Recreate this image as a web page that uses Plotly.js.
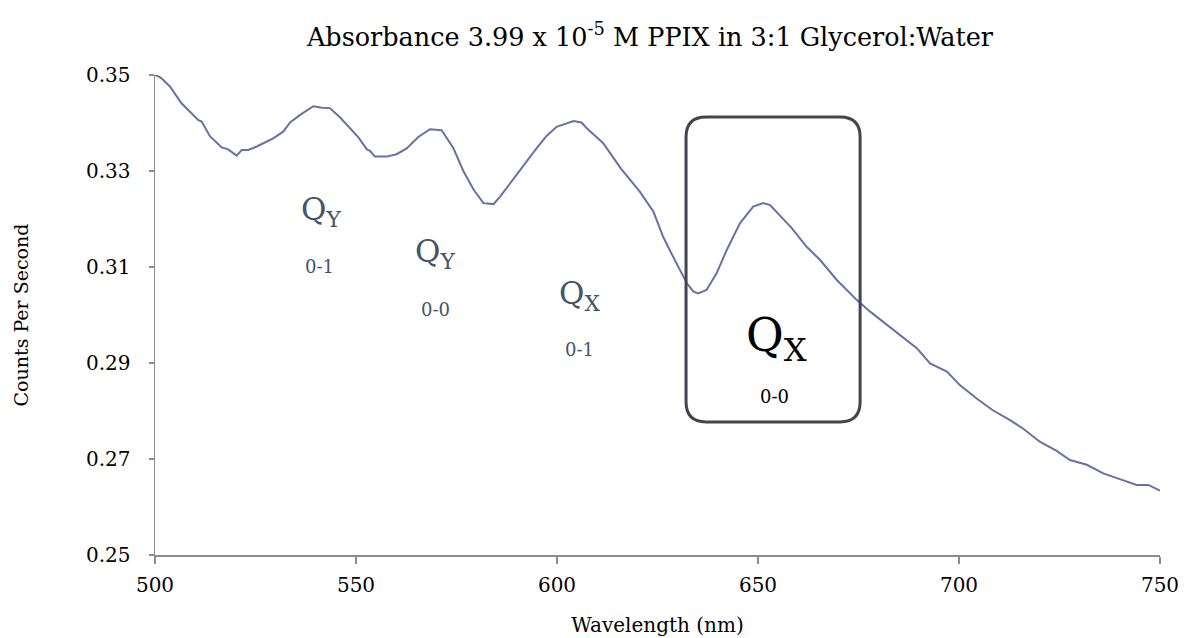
<!DOCTYPE html>
<html>
<head>
<meta charset="utf-8">
<script src="https://cdn.plot.ly/plotly-3.0.1.min.js"></script>
<style>html,body{margin:0;padding:0;background:#fff;}#chart{width:1184px;height:638px;}</style>
</head>
<body>
<div id="chart"></div>
<script>
// Wavelength (nm)
const wavelength = [500, 501.5, 503.7, 506.6, 510.8, 511.6, 513.7, 516.6, 518.2, 520.3, 521.6, 523.2, 525.3, 527.5, 529.4, 531.9, 533.6, 536.1, 539.4, 541.5, 543.5, 546.0, 548.5, 550.6, 552.7, 553.5, 554.7, 557.6, 560.1, 562.6, 565.5, 568.4, 571.3, 574.2, 576.7, 579.2, 581.7, 584.2, 585.8, 590.8, 594.9, 597.4, 599.9, 604.1, 606.1, 607.4, 611.5, 615.9, 620.6, 624.0, 626.4, 628.9, 630.6, 632.3, 633.9, 635.1, 637.2, 639.7, 642.2, 645.5, 648.8, 651.3, 653.0, 656.3, 658.4, 662.1, 665.4, 669.6, 672.9, 674.6, 677.9, 683.7, 689.5, 692.8, 697.0, 700.2, 704.4, 708.5, 712.7, 716.0, 720.1, 724.3, 727.6, 731.8, 735.9, 740.0, 744.2, 747.1, 750.0];
// Counts per second (absorbance)
const counts = [0.3500, 0.3494, 0.3476, 0.3441, 0.3406, 0.3403, 0.3372, 0.3349, 0.3345, 0.3332, 0.3344, 0.3344, 0.3351, 0.3360, 0.3368, 0.3382, 0.3401, 0.3417, 0.3435, 0.3432, 0.3431, 0.3412, 0.3388, 0.3370, 0.3345, 0.3342, 0.3330, 0.3330, 0.3335, 0.3347, 0.3371, 0.3387, 0.3385, 0.3348, 0.3300, 0.3262, 0.3233, 0.3231, 0.3246, 0.3302, 0.3347, 0.3373, 0.3392, 0.3404, 0.3401, 0.3389, 0.3358, 0.3305, 0.3257, 0.3215, 0.3163, 0.3121, 0.3094, 0.3066, 0.3049, 0.3045, 0.3052, 0.3087, 0.3135, 0.3191, 0.3226, 0.3233, 0.3229, 0.3201, 0.3181, 0.3142, 0.3115, 0.3073, 0.3045, 0.3031, 0.3007, 0.2969, 0.2931, 0.2899, 0.2882, 0.2854, 0.2826, 0.2801, 0.2781, 0.2763, 0.2736, 0.2717, 0.2698, 0.2688, 0.2670, 0.2658, 0.2646, 0.2646, 0.2634];

const xTicks = [500, 550, 600, 650, 700, 750];
const yTicks = [0.25, 0.27, 0.29, 0.31, 0.33, 0.35];
const yTickLabels = ["0.25", "0.27", "0.29", "0.31", "0.33", "0.35"];

// Band labels
const bandNames = ["Q<sub>Y</sub>", "Q<sub>Y</sub>", "Q<sub>X</sub>", "Q<sub>X</sub>"];
const bandTransitions = ["0-1", "0-0", "0-1", "0-0"];
const bandNameX = [541.3, 569.7, 605.7, 654.5];
const bandNameY = [0.3215, 0.3129, 0.3040, 0.2952];
const bandSubX = [541.0, 569.7, 605.5, 654.2];
const bandSubY = [0.3102, 0.30125, 0.29271, 0.28292];

// Highlight box (data units)
const boxX = [632.1, 675.4];
const boxY = [0.27771, 0.34125];

const FONT = "DejaVu Serif, Liberation Serif, serif";
const labelColor = "#44546A";

const annotations = [];
for (let i = 0; i < bandNames.length; i++) {
  const big = (i === 3);
  annotations.push({
    x: bandNameX[i], y: bandNameY[i], xref: "x", yref: "y",
    text: bandNames[i], showarrow: false,
    font: {family: FONT, size: big ? 46 : 31, color: big ? "#000000" : labelColor},
    xanchor: "center", yanchor: "middle"
  });
  annotations.push({
    x: bandSubX[i], y: bandSubY[i], xref: "x", yref: "y",
    text: bandTransitions[i], showarrow: false,
    font: {family: FONT, size: 18, color: big ? "#000000" : labelColor},
    xanchor: "center", yanchor: "middle"
  });
}

const rx = 5.0, ry = 0.0042;
const [x0, x1] = boxX, [y0, y1] = boxY;
const boxPath = `M ${x0 + rx} ${y1} L ${x1 - rx} ${y1} Q ${x1} ${y1} ${x1} ${y1 - ry} ` +
  `L ${x1} ${y0 + ry} Q ${x1} ${y0} ${x1 - rx} ${y0} L ${x0 + rx} ${y0} ` +
  `Q ${x0} ${y0} ${x0} ${y0 + ry} L ${x0} ${y1 - ry} Q ${x0} ${y1} ${x0 + rx} ${y1} Z`;

const trace = {
  x: wavelength, y: counts, type: "scatter", mode: "lines",
  line: {color: "#6672A6", width: 2},
  hoverinfo: "skip", cliponaxis: true
};

const layout = {
  width: 1184, height: 638,
  margin: {l: 155, r: 24, t: 75, b: 83},
  paper_bgcolor: "#ffffff", plot_bgcolor: "#ffffff",
  showlegend: false,
  font: {family: FONT, color: "#000000"},
  title: {
    text: "Absorbance 3.99 x 10<sup>-5</sup> M PPIX in 3:1 Glycerol:Water",
    font: {family: FONT, size: 25.5, color: "#000000"},
    x: 0.4925, xref: "paper", xanchor: "center",
    y: 0.942, yref: "container", yanchor: "middle"
  },
  xaxis: {
    range: [500, 750], tickvals: xTicks, ticktext: xTicks.map(String),
    showgrid: false, zeroline: false, showline: true,
    linecolor: "#8C8C8C", linewidth: 1.5,
    ticks: "outside", ticklen: 7, tickcolor: "#8C8C8C", tickwidth: 1.5,
    ticklabelstandoff: 4,
    tickfont: {family: FONT, size: 20, color: "#000000"},
    title: {text: "Wavelength (nm)", font: {family: FONT, size: 20, color: "#000000"}, standoff: 22}
  },
  yaxis: {
    range: [0.25, 0.35], tickvals: yTicks, ticktext: yTickLabels,
    showgrid: false, zeroline: false, showline: true,
    linecolor: "#8C8C8C", linewidth: 1.5,
    ticks: "outside", ticklen: 5, tickcolor: "#8C8C8C", tickwidth: 1.5,
    ticklabelstandoff: 14,
    tickfont: {family: FONT, size: 20, color: "#000000"},
    title: {text: "Counts Per Second", font: {family: FONT, size: 19, color: "#000000"}, standoff: 52}
  },
  shapes: [{
    type: "path", xref: "x", yref: "y", path: boxPath,
    line: {color: "#44444F", width: 3}, fillcolor: "rgba(0,0,0,0)", layer: "above"
  }],
  annotations: annotations
};

Plotly.newPlot("chart", [trace], layout, {displayModeBar: false, staticPlot: true});
</script>
</body>
</html>
